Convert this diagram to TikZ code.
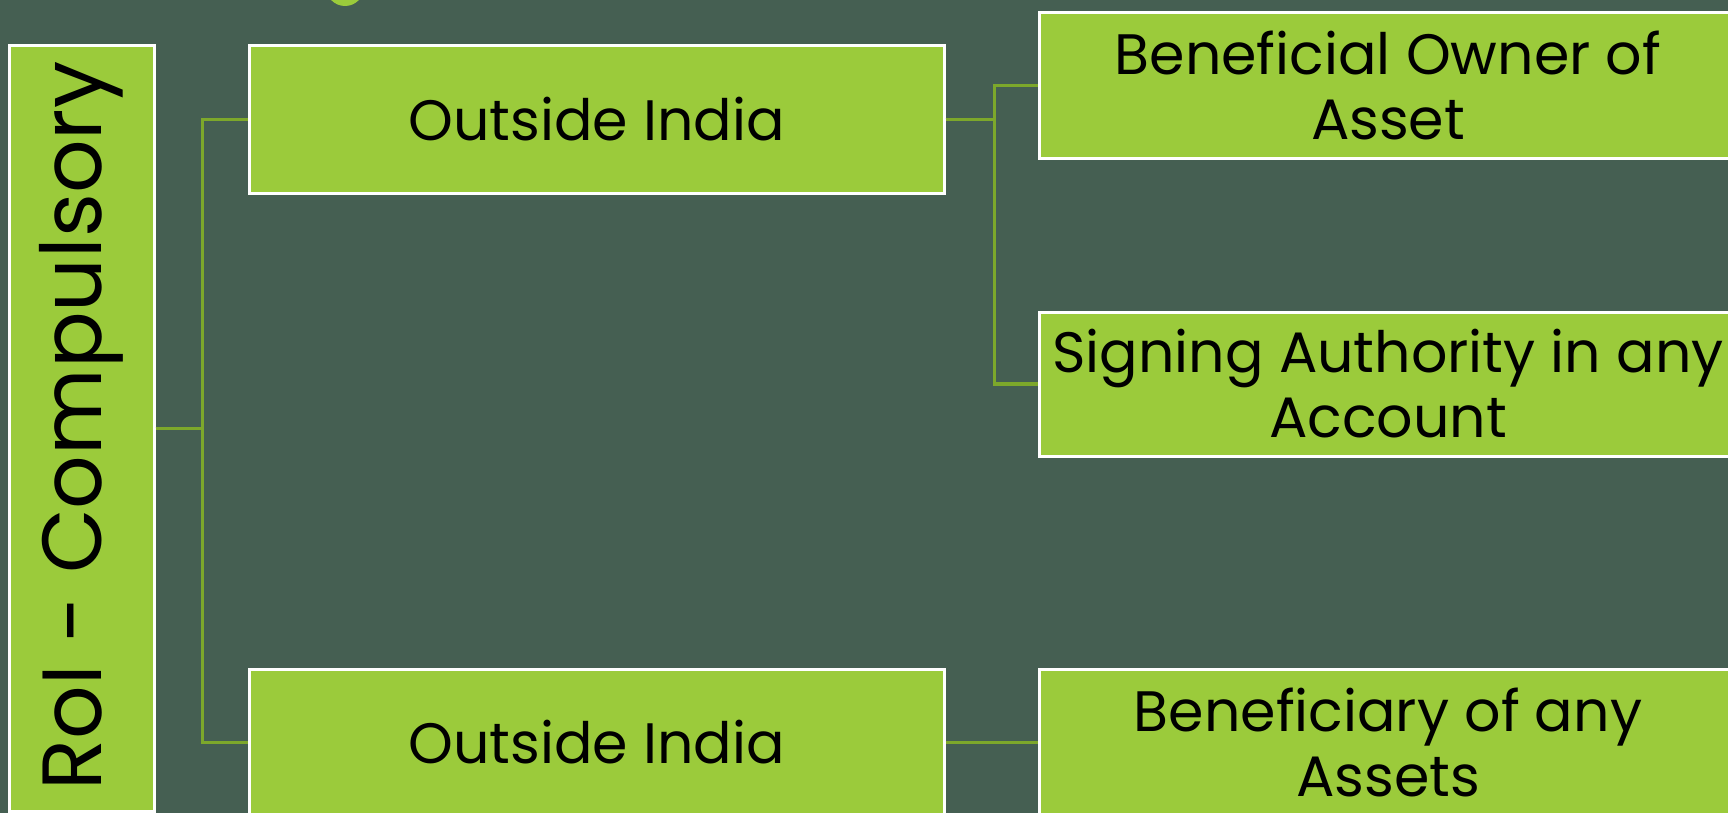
\documentclass[tikz,border=0pt]{standalone}
\usepackage{fontspec}
\setmainfont{Poppins}
\definecolor{bgslate}{HTML}{455F52}
\definecolor{leafgreen}{HTML}{9BCB3B}
\definecolor{linkgreen}{HTML}{7DA82B}
\begin{document}
\begin{tikzpicture}[x=0.5pt,y=-0.5pt,
  box/.style={draw=white, line width=1.5pt, fill=leafgreen, inner sep=0pt},
  boxtext/.style={text=black, align=center, inner sep=0pt,
    font=\fontsize{28.5}{32.5}\selectfont},
  link/.style={draw=linkgreen, line width=1.6pt}]
  \useasboundingbox (0,0) rectangle (1728,813);
  \fill[bgslate] (0,0) rectangle (1728,813);
  \clip (0,0) rectangle (1728,813);

  % title glyph peeking in at the top edge
  \fill[leafgreen] (345,-13) circle[radius=9.5pt];

  % root, rotated label
  \node[box, minimum width=72.5pt, minimum height=382.5pt] (root) at (81.5,428.5) {};
  \node[rotate=90, text=black, inner sep=0pt, font=\fontsize{42}{46}\selectfont]
    (rootlabel) at (81,426) {RoI - Compulsory};

  % second level
  \node[box, minimum width=347.5pt, minimum height=73.5pt] (oi1) at (596.5,119.5) {};
  \node[boxtext] (oi1t) at (oi1.center) {Outside India};
  \node[box, minimum width=347.5pt, minimum height=73.5pt] (oi2) at (596.5,742.5) {};
  \node[boxtext] (oi2t) at (oi2.center) {Outside India};

  % third level
  \node[box, minimum width=350.5pt, minimum height=72.5pt] (bo) at (1389.5,85.5) {};
  \node[boxtext] (bot) at (1388,85.5) {Beneficial Owner of\\Asset};
  \node[box, minimum width=350.5pt, minimum height=72pt] (sa) at (1389.5,384) {};
  \node[boxtext] (sat) at (1388,384) {Signing Authority in any\\Account};
  \node[box, minimum width=350.5pt, minimum height=73pt] (ba) at (1389.5,742.5) {};
  \node[boxtext] (bat) at (1388,742.5) {Beneficiary of any\\Assets};

  % connectors
  \draw[link] (root.east) -- ++(47,0) |- (oi1.west);
  \draw[link] (root.east) -- ++(47,0) |- (oi2.west);
  \draw[link] (oi1.east) -- ++(49,0) |- (bo.west);
  \draw[link] (oi1.east) -- ++(49,0) |- (sa.west);
  \draw[link] (oi2.east) -- (ba.west);
\end{tikzpicture}
\end{document}
